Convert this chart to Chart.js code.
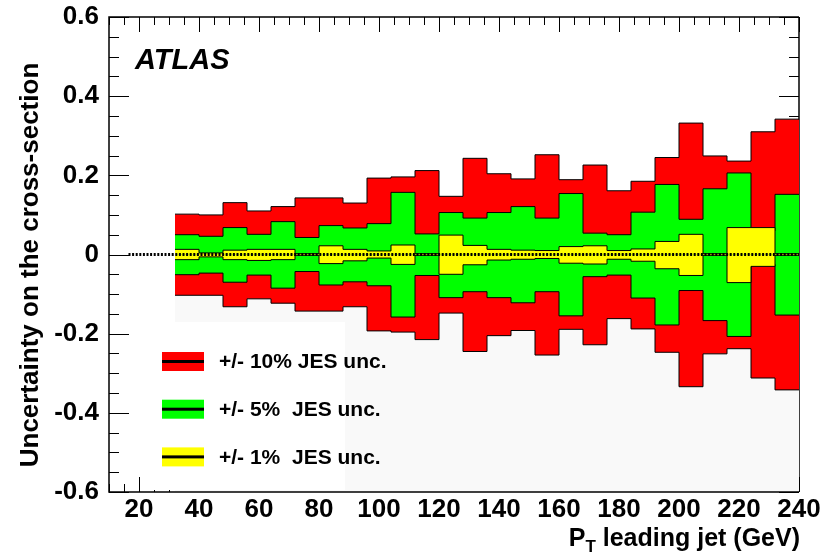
<!DOCTYPE html>
<html>
<head>
<meta charset="utf-8">
<title>JES uncertainty on the cross-section</title>
<script src="https://cdn.jsdelivr.net/npm/chart.js@4.4.1/dist/chart.umd.min.js"></script>
<style>
  html, body { margin: 0; padding: 0; background: #fff; }
  #wrap { width: 833px; height: 554px; }
</style>
</head>
<body>
<div id="wrap"><canvas id="c" width="833" height="554"></canvas></div>
<script>
// Leading-jet pT bin edges (GeV), 8 GeV wide bins
const binEdges = [32, 40, 48, 56, 64, 72, 80, 88, 96, 104, 112, 120, 128, 136,
                  144, 152, 160, 168, 176, 184, 192, 200, 208, 216, 224, 232, 240];

// Relative cross-section shift per bin for each JES variation
const red10Up   = [0.102, 0.100, 0.131, 0.110, 0.121, 0.143, 0.143, 0.130, 0.193, 0.196, 0.212, 0.147, 0.243,
                   0.204, 0.191, 0.252, 0.189, 0.226, 0.161, 0.185, 0.245, 0.332, 0.249, 0.236, 0.310, 0.342];
const red10Down = [-0.103, -0.103, -0.132, -0.112, -0.123, -0.143, -0.143, -0.132, -0.193, -0.196, -0.215, -0.148, -0.245,
                   -0.205, -0.192, -0.254, -0.189, -0.228, -0.162, -0.188, -0.247, -0.334, -0.251, -0.238, -0.312, -0.342];
const green5Up   = [0.050, 0.046, 0.068, 0.051, 0.083, 0.043, 0.073, 0.067, 0.078, 0.157, 0.052, 0.106, 0.092,
                    0.106, 0.121, 0.092, 0.154, 0.054, 0.050, 0.107, 0.177, 0.089, 0.166, 0.206, 0.060, 0.152];
const green5Down = [-0.051, -0.047, -0.070, -0.052, -0.085, -0.043, -0.077, -0.069, -0.079, -0.158, -0.053, -0.109, -0.094,
                    -0.109, -0.122, -0.094, -0.155, -0.056, -0.052, -0.110, -0.178, -0.091, -0.167, -0.207, -0.025, -0.153];
const yellow1Up   = [0.013, 0.004, 0.011, 0.013, 0.013, 0.002, 0.022, 0.013, 0.009, 0.024, 0.002, 0.049, 0.023,
                     0.013, 0.011, 0.010, 0.020, 0.022, 0.010, 0.014, 0.033, 0.051, 0.002, 0.068, 0.068, 0.002];
const yellow1Down = [-0.013, -0.006, -0.013, -0.015, -0.013, -0.002, -0.023, -0.016, -0.009, -0.025, -0.002, -0.050, -0.026,
                     -0.014, -0.012, -0.010, -0.022, -0.024, -0.012, -0.017, -0.036, -0.053, -0.002, -0.071, -0.030, -0.002];

// Axis ticks and labels
const xTickValues = [20, 40, 60, 80, 100, 120, 140, 160, 180, 200, 220, 240];
const yTickValues = [-0.6, -0.4, -0.2, 0, 0.2, 0.4, 0.6];
const legendLabels = ['+/- 10% JES unc.', '+/- 5%  JES unc.', '+/- 1%  JES unc.'];
const legendColors = ['#ff0000', '#00ff00', '#ffff00'];

const FONT = '"Liberation Sans", Arial, Helvetica, sans-serif';

// Turn per-bin values into step points: value i is held from edge i to edge i+1
function steps(values) {
  const pts = values.map((v, i) => ({ x: binEdges[i], y: v }));
  pts.push({ x: binEdges[binEdges.length - 1], y: values[values.length - 1] });
  return pts;
}

function band(values, color, order) {
  return {
    data: steps(values),
    stepped: 'before',
    fill: 'origin',
    backgroundColor: color,
    borderColor: '#000',
    borderWidth: 1,
    pointRadius: 0,
    order: order
  };
}

// Frame, inner ticks, zero line, legend and titles
const decorations = {
  id: 'decorations',
  beforeDatasetsDraw(chart) {
    const { ctx, chartArea: a, scales: { x, y } } = chart;
    ctx.save();
    ctx.strokeStyle = '#000';
    ctx.lineWidth = 1;
    ctx.beginPath();
    for (let v = 10; v <= 240; v += 5) {
      const px = Math.round(x.getPixelForValue(v)) + 0.5;
      const len = v % 20 === 0 ? 15 : 8;
      ctx.moveTo(px, a.bottom); ctx.lineTo(px, a.bottom - len);
      ctx.moveTo(px, a.top); ctx.lineTo(px, a.top + len);
    }
    for (let i = -12; i <= 12; i++) {
      const py = Math.round(y.getPixelForValue(i * 0.05)) + 0.5;
      const len = i % 4 === 0 ? 20 : 10;
      ctx.moveTo(a.left, py); ctx.lineTo(a.left + len, py);
      ctx.moveTo(a.right, py); ctx.lineTo(a.right - len, py);
    }
    ctx.stroke();
    ctx.lineWidth = 1.5;
    ctx.beginPath();
    ctx.moveTo(a.right, a.top); ctx.lineTo(a.right, a.bottom);
    ctx.stroke();
    ctx.restore();
  },
  afterDatasetsDraw(chart) {
    const { ctx, chartArea: a, scales: { x, y } } = chart;
    ctx.save();

    // dotted zero line
    const y0 = y.getPixelForValue(0);
    ctx.strokeStyle = '#000';
    ctx.lineWidth = 3;
    ctx.setLineDash([2, 1.6]);
    ctx.beginPath();
    ctx.moveTo(x.getPixelForValue(16.5), y0);
    ctx.lineTo(x.getPixelForValue(240), y0);
    ctx.stroke();
    ctx.setLineDash([]);

    // legend box
    ctx.fillStyle = '#fff';
    ctx.fillRect(145, 322, 200, 168);
    legendLabels.forEach((lab, i) => {
      const cy = 361.5 + i * 47.7;
      ctx.fillStyle = legendColors[i];
      ctx.fillRect(162, cy - 9.5, 42, 19);
      ctx.fillStyle = '#000';
      ctx.fillRect(162, cy - 1.5, 42, 3);
      ctx.font = 'bold 21px ' + FONT;
      ctx.textBaseline = 'middle';
      ctx.textAlign = 'left';
      ctx.fillText(lab, 219, cy + 1);
    });

    // frame
    ctx.strokeStyle = '#000';
    ctx.lineWidth = 1.5;
    ctx.beginPath();
    ctx.moveTo(a.right, a.top); ctx.lineTo(a.left, a.top);
    ctx.lineTo(a.left, a.bottom); ctx.lineTo(a.right, a.bottom);
    ctx.stroke();

    // experiment label
    ctx.fillStyle = '#000';
    ctx.font = 'italic bold 29px ' + FONT;
    ctx.textAlign = 'left';
    ctx.textBaseline = 'alphabetic';
    ctx.fillText('ATLAS', 135, 69);

    // x-axis title: P_T leading jet (GeV), right-aligned to the frame
    const big = 'bold 25px ' + FONT, small = 'bold 17px ' + FONT;
    ctx.font = big;
    const rest = ' leading jet (GeV)';
    const wRest = ctx.measureText(rest).width;
    const wP = ctx.measureText('P').width;
    ctx.font = small;
    const wT = ctx.measureText('T').width;
    let xs = 800 - wRest - wT - wP;
    ctx.font = big;
    ctx.fillText('P', xs, 546);
    ctx.font = small;
    ctx.fillText('T', xs + wP, 552);
    ctx.font = big;
    ctx.fillText(rest, xs + wP + wT, 546);

    // y-axis title
    ctx.translate(38, 265);
    ctx.rotate(-Math.PI / 2);
    ctx.textAlign = 'center';
    ctx.font = 'bold 26px ' + FONT;
    ctx.fillText('Uncertainty on the cross-section', 0, 0);
    ctx.restore();
  }
};

const tickFont = { family: FONT, weight: 'bold', size: 26 };

new Chart(document.getElementById('c'), {
  type: 'line',
  data: {
    datasets: [
      { data: steps(red10Down), stepped: 'before', fill: { value: -0.6 },
        backgroundColor: '#f9f9f9', borderWidth: 0, pointRadius: 0, order: 7 },
      band(red10Up, '#ff0000', 6),
      band(red10Down, '#ff0000', 5),
      band(green5Up, '#00ff00', 4),
      band(green5Down, '#00ff00', 3),
      band(yellow1Up, '#ffff00', 2),
      band(yellow1Down, '#ffff00', 1)
    ]
  },
  options: {
    responsive: false,
    animation: false,
    devicePixelRatio: 1,
    layout: { padding: { top: 17, right: 34, left: 0, bottom: 0 } },
    plugins: { legend: { display: false }, tooltip: { enabled: false } },
    scales: {
      x: {
        type: 'linear', min: 10, max: 240,
        grid: { display: false, drawTicks: false },
        border: { display: false },
        afterBuildTicks: s => { s.ticks = xTickValues.map(v => ({ value: v })); },
        afterFit: s => { s.height = 62; s.paddingLeft = 0; s.paddingRight = 0; },
        ticks: { autoSkip: false, maxRotation: 0, padding: 2, color: '#000', font: tickFont }
      },
      y: {
        type: 'linear', min: -0.6, max: 0.6,
        grid: { display: false, drawTicks: false },
        border: { display: false },
        afterBuildTicks: s => { s.ticks = yTickValues.map(v => ({ value: v })); },
        afterFit: s => { s.width = 109; s.paddingTop = 0; s.paddingBottom = 0; },
        ticks: {
          padding: 10, color: '#000', font: tickFont,
          callback: v => (Math.abs(v) < 1e-9 ? '0' : v.toFixed(1))
        }
      }
    }
  },
  plugins: [decorations]
});
</script>
</body>
</html>
